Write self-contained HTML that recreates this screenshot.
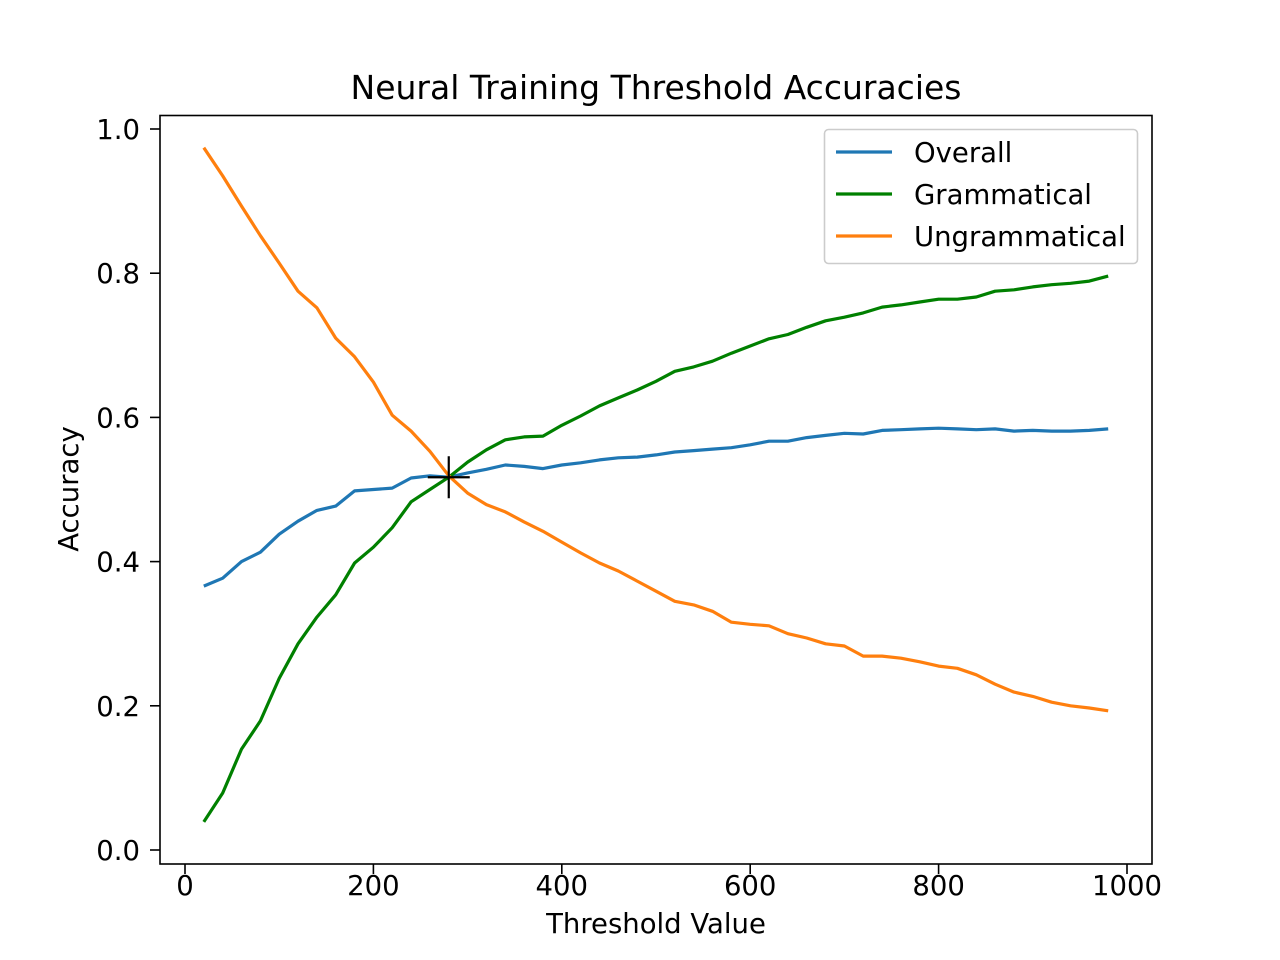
<!DOCTYPE html>
<html><head><meta charset="utf-8"><style>
html,body{margin:0;padding:0;background:#fff;}
svg{display:block;font-family:"DejaVu Sans","Liberation Sans",sans-serif;}
</style></head><body>
<svg id="chart" width="1280" height="960" xmlns="http://www.w3.org/2000/svg">
<rect width="1280" height="960" fill="#fff"/>
<g id="plot"></g>
</svg>
<script>
const thresholds = [20,40,60,80,100,120,140,160,180,200,220,240,260,280,300,320,340,360,380,400,420,440,460,480,500,520,540,560,580,600,620,640,660,680,700,720,740,760,780,800,820,840,860,880,900,920,940,960,980];
const overall = [0.366,0.377,0.40,0.413,0.438,0.456,0.471,0.477,0.498,0.50,0.502,0.516,0.519,0.517,0.523,0.528,0.534,0.532,0.529,0.534,0.537,0.541,0.544,0.545,0.548,0.552,0.554,0.556,0.558,0.562,0.567,0.567,0.572,0.575,0.578,0.577,0.582,0.583,0.584,0.585,0.584,0.583,0.584,0.581,0.582,0.581,0.581,0.582,0.584];
const grammatical = [0.039,0.079,0.14,0.179,0.238,0.286,0.323,0.354,0.398,0.42,0.447,0.483,0.50,0.517,0.538,0.555,0.569,0.573,0.574,0.589,0.602,0.616,0.627,0.638,0.650,0.664,0.670,0.678,0.689,0.699,0.709,0.715,0.725,0.734,0.739,0.745,0.753,0.756,0.760,0.764,0.764,0.767,0.775,0.777,0.781,0.784,0.786,0.789,0.796];
const ungrammatical = [0.974,0.935,0.893,0.852,0.814,0.775,0.752,0.710,0.684,0.649,0.603,0.581,0.553,0.519,0.495,0.479,0.469,0.455,0.442,0.427,0.412,0.398,0.387,0.373,0.359,0.345,0.340,0.331,0.316,0.313,0.311,0.300,0.294,0.286,0.283,0.269,0.269,0.266,0.261,0.255,0.252,0.243,0.230,0.219,0.213,0.205,0.200,0.197,0.193];
const xTicks = [0,200,400,600,800,1000];
const yTicks = [0.0,0.2,0.4,0.6,0.8,1.0];
const crossPoint = [280,0.517];

const NS='http://www.w3.org/2000/svg';
const g=document.getElementById('plot');
const X=v=>185+v*0.942;
const Y=v=>850-v*721;
function mk(t,a,txt){const e=document.createElementNS(NS,t);for(const k in a)e.setAttribute(k,a[k]);if(txt!==undefined)e.textContent=txt;g.appendChild(e);return e;}

function series(arr,color,name){
  const p=mk('polyline',{points:arr.map((v,i)=>X(thresholds[i]).toFixed(1)+','+Y(v).toFixed(1)).join(' '),fill:'none',stroke:color,'stroke-width':3.2,'stroke-linejoin':'round'});
  
  
}
series(overall,'#1f77b4','overall-line');
series(grammatical,'#008000','grammatical-line');
series(ungrammatical,'#ff7f0e','ungrammatical-line');

const cx=X(crossPoint[0]),cy=Y(crossPoint[1]);
const m=mk('path',{d:`M${cx-21},${cy}H${cx+21}M${cx},${cy-21}V${cy+21}`,stroke:'#000','stroke-width':2.2});



const ax=mk('rect',{x:160,y:115.5,width:992,height:748.5,fill:'none',stroke:'#000','stroke-width':1.6});



xTicks.forEach(t=>{
  mk('line',{x1:X(t),x2:X(t),y1:864,y2:874,stroke:'#000','stroke-width':1.6});
  const l=mk('text',{x:X(t),y:895,'font-size':27.5,'text-anchor':'middle'},String(t));
  
  
});
yTicks.forEach(t=>{
  mk('line',{x1:150,x2:160,y1:Y(t),y2:Y(t),stroke:'#000','stroke-width':1.6});
  const l=mk('text',{x:140,y:Y(t)+10,'font-size':27.5,'text-anchor':'end'},t.toFixed(1));
  
  
});
const xt=mk('text',{x:656,y:933,'font-size':27.5,'text-anchor':'middle'},'Threshold Value');


const yt=mk('text',{x:0,y:0,'font-size':27.5,'text-anchor':'middle',transform:'translate(78,489) rotate(-90)'},'Accuracy');


const ti=mk('text',{x:656,y:99,'font-size':33,'text-anchor':'middle'},'Neural Training Threshold Accuracies');



const lb=mk('rect',{x:824.5,y:129.5,width:313,height:134,rx:4,fill:'#fff','fill-opacity':0.8,stroke:'#ccc','stroke-width':1.6});


[['Overall','#1f77b4',152],['Grammatical','#008000',194],['Ungrammatical','#ff7f0e',236]].forEach(([n,c,y])=>{
  mk('line',{x1:836,x2:892,y1:y,y2:y,stroke:c,'stroke-width':3.2});
  const t=mk('text',{x:914,y:y+10,'font-size':27.5},n);
  
  
});
</script>
</body></html>
